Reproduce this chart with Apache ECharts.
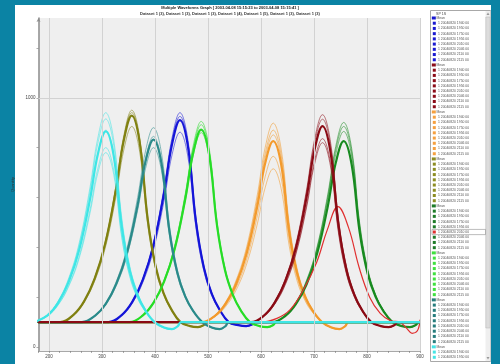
<!DOCTYPE html>
<html><head><meta charset="utf-8">
<script src="https://cdn.jsdelivr.net/npm/echarts@6/dist/echarts.min.js"></script>
<style>
html,body{margin:0;padding:0;background:#0b83a4;width:500px;height:364px;overflow:hidden}
#win{position:absolute;left:15px;top:5px;width:476px;height:359px;background:#fff}
#c{position:absolute;left:0;top:0;width:500px;height:364px}
</style></head><body><div id="win"></div><div id="c"></div>
<script>
// ---- tick labels ----
const xTickLabels = [200,300,400,500,600,700,800,900];
const yTickValues = [0,200,400,600,800,1000,1200];
const yLabelValues = [0,1000];

// ---- cyan group ----
const cyanX = [172,197,217,237,257,277,292,307,322,337,352,367,382,399,417,432,443,449,900];
const cyanMean = [100,127,177,261,391,590,773,865,766,483,307,207,146,100,78,72,84,100,100];
const cyanRuns = [
 [100,129,184,276,419,638,839,940,831,520,327,218,150,100,78,72,84,100,100],
 [100,129,182,271,410,622,817,915,809,508,320,214,149,100,79,73,85,100,100],
 [100,125,170,247,366,548,716,800,709,450,289,198,142,100,77,71,83,100,100],
 [100,124,168,243,358,535,698,780,692,440,284,195,141,100,78,73,84,100,100],
 [100,127,177,262,393,593,778,870,770,485,308,208,146,100,76,70,82,100,100]
];
// ---- olive group ----
const oliveX = [180,221,246,266,286,306,326,341,356,371,386,401,416,431,448,466,481,492,498,900];
const oliveMean = [100,100,129,183,274,415,630,829,928,820,514,324,216,150,100,84,80,88,100,100];
const oliveRuns = [
 [100,100,130,185,279,423,644,848,950,840,525,330,219,151,100,84,80,88,100,100],
 [100,100,129,184,276,419,638,839,940,831,520,327,218,150,100,83,79,87,100,100],
 [100,100,127,179,265,398,602,791,885,783,493,312,210,147,100,85,81,89,100,100]
];
// ---- teal group ----
const tealX = [180,262,287,307,327,347,367,382,397,412,427,442,457,472,489,507,522,533,539,900];
const tealMean = [100,100,126,173,254,378,568,744,832,737,466,298,202,144,100,78,72,84,100,100];
const tealRuns = [
 [100,100,127,178,264,396,599,786,880,779,490,311,209,147,100,78,72,84,100,100],
 [100,100,125,170,247,366,548,716,800,709,450,289,198,142,100,79,73,85,100,100],
 [100,100,126,175,256,383,577,756,845,748,473,301,204,145,100,77,71,83,100,100]
];
// ---- blue group ----
const blueX = [180,312,337,357,377,397,417,432,447,462,477,492,507,522,539,557,572,583,589,900];
const blueMean = [100,100,128,181,270,408,618,813,910,805,505,319,213,149,100,88,84,90,100,100];
const blueRuns = [
 [100,100,129,184,276,419,638,839,940,831,520,327,218,150,100,88,84,90,100,100],
 [100,100,129,183,273,414,628,826,925,818,513,323,216,150,100,87,83,89,100,100],
 [100,100,127,176,260,390,588,771,862,763,481,306,207,146,100,88,85,91,100,100]
];
// ---- green group ----
const greenX = [180,352,377,397,417,437,457,472,487,502,517,532,547,562,579,597,612,623,629,900];
const greenMean = [100,100,127,177,262,393,594,779,872,772,486,308,208,146,100,84,80,88,100,100];
const greenRuns = [
 [100,100,128,181,269,406,615,808,905,800,503,317,213,148,100,84,80,88,100,100],
 [100,100,128,179,266,401,607,797,892,789,496,314,211,148,100,85,81,89,100,100],
 [100,100,127,176,260,389,586,769,860,761,480,305,206,146,100,83,79,87,100,100]
];
// ---- orange group ----
const orangeX = [180,488,513,533,553,573,593,608,623,638,653,668,683,698,715,733,748,759,765,900];
const orangeMean = [100,100,125,173,252,376,565,739,826,732,463,296,202,144,100,78,72,84,100,100];
const orangeRuns = [
 [100,100,128,180,268,403,611,802,898,794,499,315,212,148,100,78,72,84,100,100],
 [100,100,127,177,262,393,593,778,870,770,485,308,208,146,100,77,71,83,100,100],
 [100,100,126,175,258,385,581,761,851,753,476,303,205,145,100,79,73,85,100,100],
 [100,100,123,167,240,353,526,685,765,679,433,280,193,140,100,78,72,84,100,100],
 [100,100,122,162,229,334,494,641,715,635,408,266,186,137,100,78,73,85,100,100]
];
// ---- dark red group ----
const darkRedX = [180,581,606,626,646,666,686,701,716,731,746,761,776,791,808,826,841,852,858,900];
const darkRedMean = [100,100,127,179,265,398,602,791,886,783,493,312,210,147,100,84,80,88,100,100];
const darkRedRuns = [
 [100,100,129,183,275,416,632,832,932,824,516,325,216,150,100,84,80,88,100,100],
 [100,100,129,182,271,410,622,817,914,809,508,320,214,149,100,83,79,87,100,100],
 [100,100,126,174,255,380,571,748,836,740,468,299,203,144,100,85,81,89,100,100],
 [100,100,125,172,251,374,561,734,820,726,460,294,201,143,100,84,80,88,100,100]
];
// ---- dark green group ----
const darkGreenX = [180,621,646,666,686,706,726,741,756,771,786,801,816,831,848,866,881,892,898,900];
const darkGreenMean = [100,100,125,173,252,376,565,739,826,732,463,296,202,144,100,84,80,88,100,100];
const darkGreenRuns = [
 [100,100,128,180,268,404,613,805,901,797,500,316,212,148,100,84,80,88,100,100],
 [100,100,127,179,265,398,602,791,885,783,493,312,210,147,100,83,79,87,100,100],
 [100,100,127,177,261,391,590,773,865,766,483,307,207,146,100,85,81,89,100,100]
];
// ---- highlighted (selected) run of dark green group ----
const redX = [180,600,630,655,680,705,725,745,765,785,805,825,845,862,875,885,895,900];
const redY = [100,100,115,150,230,340,470,563,480,320,200,135,105,100,75,55,65,108];

// ---- legend texts ----
const legendTitle = 'SP 1S';
const legendHeader = 'Mean';
const runLabels = ['1 20040820 1940 00','1 20040820 1950 00','1 20040820 1750 00','1 20040820 1956 00',
                   '1 20040820 2010 00','1 20040820 2046 00','1 20040820 2110 00','1 20040820 2115 00'];
const legendColors = ['#1818d0','#8b0c18','#f5a040','#8c8c22','#1e7b28','#3ee03e','#267c7c','#44e4e4'];
const selectedGroup = 4, selectedItem = 4, selectedColor = '#e03030';

const titleText = 'Multiple Waveforms Graph [ 2003-04-08 15:15:23 to 2003-04-08 15:15:41 ]';
const subText = 'Dataset 1 (3), Dataset 1 (3), Dataset 1 (3), Dataset 1 (4), Dataset 1 (5), Dataset 1 (3), Dataset 1 (3)';
const xName = 'Time - 4-30 - 08/20/2004';
const yName = 'Quantity';

// ---- build series (draw order) ----
const groups = [
 {color:'#1414d8', xs:blueX, mean:blueMean, runs:blueRuns},
 {color:'#f39a2c', xs:orangeX, mean:orangeMean, runs:orangeRuns},
 {color:'#808010', xs:oliveX, mean:oliveMean, runs:oliveRuns},
 {color:'#178a1f', xs:darkGreenX, mean:darkGreenMean, runs:darkGreenRuns},
 {color:'#26dd26', xs:greenX, mean:greenMean, runs:greenRuns},
 {color:'#2a8a8a', xs:tealX, mean:tealMean, runs:tealRuns},
 {color:'#8a0a14', xs:darkRedX, mean:darkRedMean, runs:darkRedRuns},
 {color:'#3ee6e6', xs:cyanX, mean:cyanMean, runs:cyanRuns}
];
function mk(xs, ys, color, width, opacity){
  return {type:'line', data: xs.map((x,i)=>[x, ys[i]]), symbol:'none', showSymbol:false,
    smooth:0.4, silent:true, animation:false, clip:true, z:2,
    lineStyle:{color:color, width:width, opacity:opacity, cap:'round', join:'round'}};
}
const series = [{
  type:'line', data:[], silent:true, z:1, animation:false,
  markLine:{silent:true, symbol:'none', animation:false, label:{show:false},
    lineStyle:{color:'#d2d2d2', width:1, type:'solid'},
    data: xTickLabels.map(v=>({xAxis:v})).concat([{yAxis:1000}])}
}];
groups.forEach((g,gi)=>{
  g.runs.forEach(r=>series.push(mk(g.xs, r, g.color, 1, 0.55)));
  series.push(mk(g.xs, g.mean, g.color, 2.2, 1));
  if (gi === 3) series.push(mk(redX, redY, selectedColor, 1.2, 1));
});

// ---- legend graphics ----
const els = [];
const rowH = 5.22, y0 = 18;
els.push({type:'rect', shape:{x:430.5,y:10.5,width:60,height:351}, style:{fill:'#fff', stroke:'#a8a8a8', lineWidth:1}});
els.push({type:'rect', shape:{x:485.5,y:11,width:5,height:350}, style:{fill:'#efefef'}});
els.push({type:'rect', shape:{x:485.8,y:17,width:4.4,height:311}, style:{fill:'#dcdcdc', stroke:'#b5b5b5', lineWidth:0.5}});
els.push({type:'polygon', shape:{points:[[486.5,15],[489.5,15],[488,12.5]]}, style:{fill:'#999'}});
els.push({type:'polygon', shape:{points:[[486.5,357],[489.5,357],[488,359.5]]}, style:{fill:'#999'}});
els.push({type:'text', x:436, y:14, style:{text:legendTitle, fontSize:3.6, fill:'#444', verticalAlign:'middle', fontFamily:'Liberation Sans'}});
let row = 0;
legendColors.forEach((c,gi)=>{
  const items = [legendHeader].concat(runLabels);
  items.forEach((t,ii)=>{
    const y = y0 + row*rowH;
    row++;
    if (y > 359) return;
    const isHeader = ii === 0;
    const sel = gi === selectedGroup && ii - 1 === selectedItem;
    if (sel) els.push({type:'rect', shape:{x:432,y:y-2.6,width:53.5,height:5.2}, style:{fill:'none', stroke:'#909090', lineWidth:0.6}});
    els.push({type:'rect', shape:{x:isHeader?431.8:432.8, y:y-1.5, width:isHeader?4:3, height:3}, style:{fill: sel?selectedColor:c}});
    els.push({type:'text', x:isHeader?436.5:438, y:y, style:{text:t, fontSize:3.4, fill:'#555', verticalAlign:'middle', fontFamily:'Liberation Sans'}});
  });
});

const chart = echarts.init(document.getElementById('c'), null, {renderer:'canvas'});
chart.setOption({
  animation:false,
  backgroundColor:'transparent',
  textStyle:{fontFamily:'Liberation Sans, Arial, sans-serif'},
  title:{text:titleText, subtext:subText, left:230, top:6, padding:0, textAlign:'center', itemGap:1.5,
    textStyle:{fontSize:4, fontWeight:'bold', color:'#222'},
    subtextStyle:{fontSize:4, fontWeight:'bold', color:'#333'}},
  grid:{left:38.5, right:80, top:18, bottom:13, show:true, backgroundColor:'#efefef', borderWidth:0, outerBoundsMode:'none'},
  xAxis:{type:'value', min:180, max:900, interval:20,
    axisLine:{show:true, onZero:false, lineStyle:{color:'#a8a8a8', width:1}},
    axisTick:{show:true, length:2, lineStyle:{color:'#777', width:0.6}},
    axisLabel:{formatter:v=> xTickLabels.indexOf(v)>=0 ? String(v) : '', fontSize:4.5, color:'#444', margin:3},
    splitLine:{show:false},
    name:xName, nameLocation:'middle', nameGap:9, nameTextStyle:{fontSize:4, color:'#333'}},
  yAxis:{type:'value', min:-16, max:1320,
    axisLine:{show:true, onZero:false, symbol:['none','arrow'], symbolSize:[3,4], lineStyle:{color:'#8c8c8c', width:1.5}},
    axisTick:{show:true, length:2, customValues:yTickValues, lineStyle:{color:'#777', width:0.6}},
    axisLabel:{customValues:yLabelValues, formatter:v=>String(v), fontSize:4.5, color:'#444', margin:3},
    splitLine:{show:false},
    name:yName, nameLocation:'middle', nameRotate:90, nameGap:13, nameTextStyle:{fontSize:4, color:'#333'}},
  series:series,
  graphic:{elements:els.map(e=>Object.assign({z:100, silent:true}, e))}
});
</script></body></html>
